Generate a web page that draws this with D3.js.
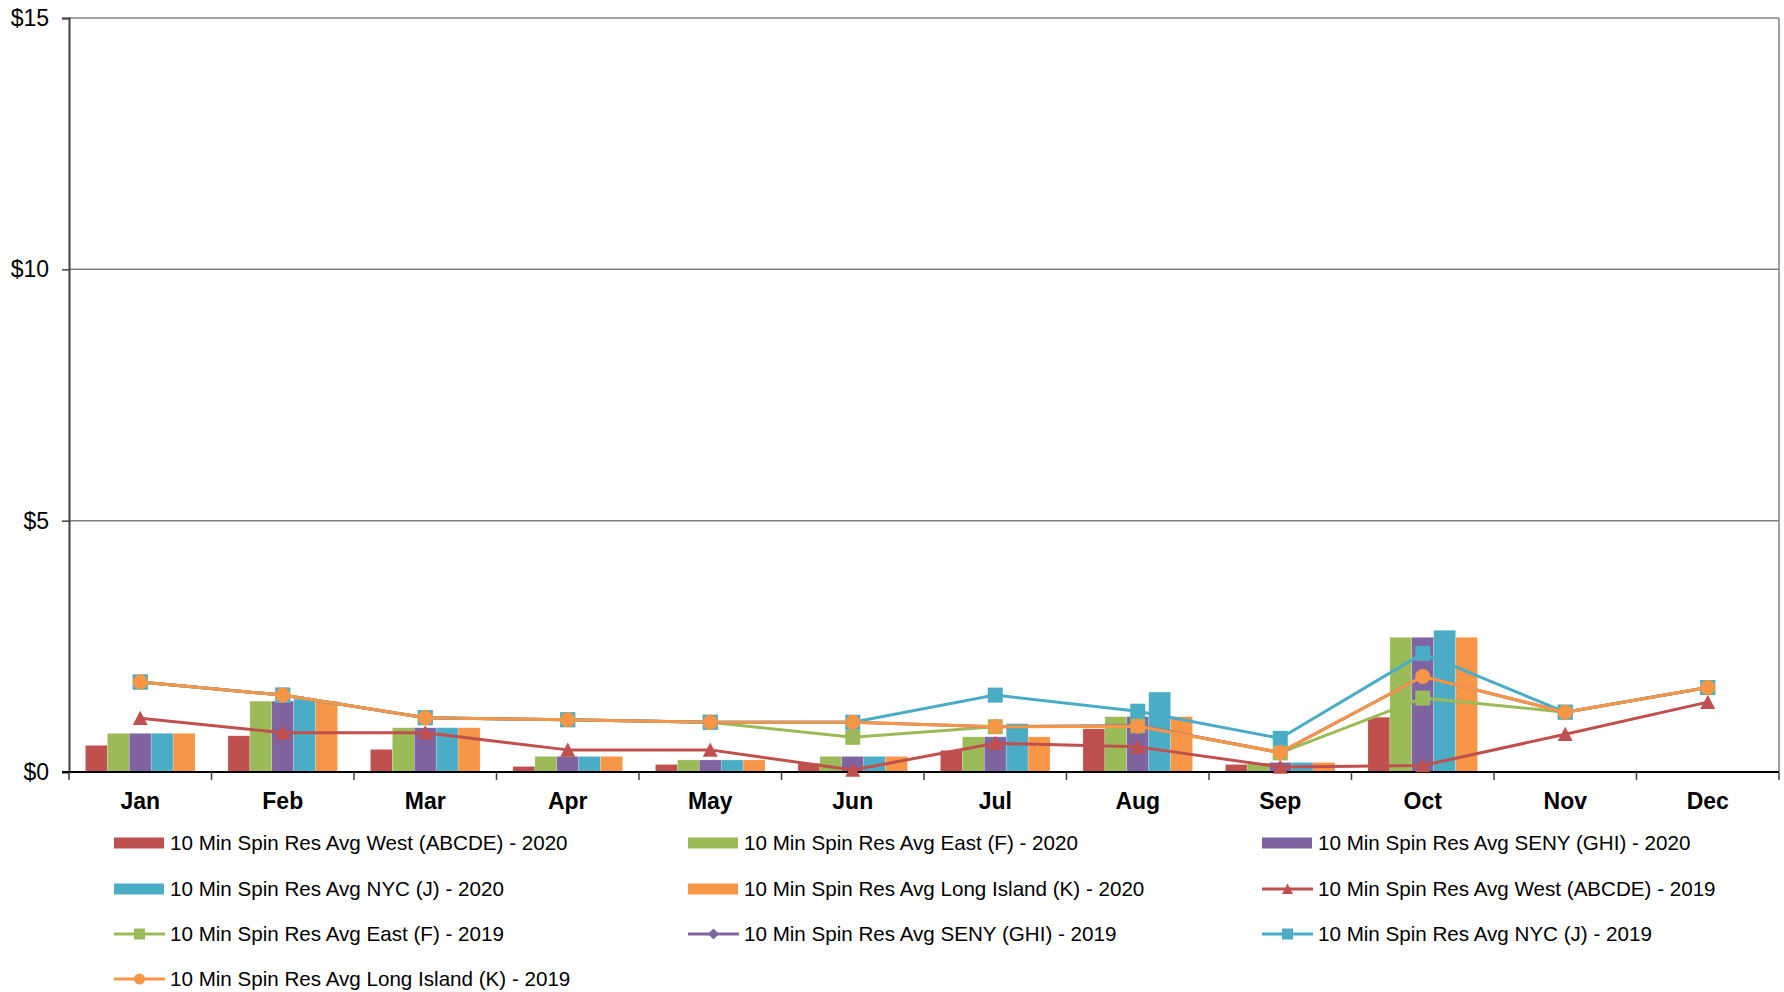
<!DOCTYPE html>
<html><head><meta charset="utf-8">
<script src="https://cdn.jsdelivr.net/npm/d3@7"></script>
<style>
html,body{margin:0;padding:0;background:#fff;}
svg{display:block;font-family:"Liberation Sans",Arial,sans-serif;}
</style></head>
<body>
<svg id="chart" width="1784" height="992"></svg>
<script>
const months = ["Jan","Feb","Mar","Apr","May","Jun","Jul","Aug","Sep","Oct","Nov","Dec"];
const yTicks = [0,5,10,15];

const west2020 = [0.53,0.72,0.45,0.11,0.15,0.17,0.43,0.86,0.15,1.09,null,null];
const east2020 = [0.77,1.41,0.88,0.31,0.24,0.31,0.70,1.10,0.18,2.68,null,null];
const seny2020 = [0.77,1.41,0.88,0.31,0.24,0.31,0.70,1.10,0.19,2.68,null,null];
const nyc2020  = [0.77,1.45,0.88,0.31,0.24,0.31,0.96,1.59,0.19,2.82,null,null];
const li2020   = [0.77,1.41,0.88,0.31,0.24,0.31,0.70,1.10,0.19,2.68,null,null];

const west2019 = [1.07,0.78,0.78,0.44,0.44,0.04,0.57,0.50,0.10,0.13,0.75,1.39];
const east2019 = [1.79,1.53,1.08,1.04,0.99,0.69,0.90,0.92,0.38,1.47,1.19,1.68];
const seny2019 = [1.79,1.53,1.08,1.04,0.99,0.99,0.90,0.92,0.39,1.90,1.19,1.68];
const nyc2019  = [1.79,1.53,1.08,1.04,0.99,0.99,1.53,1.21,0.67,2.36,1.19,1.68];
const li2019   = [1.79,1.53,1.08,1.04,0.99,0.99,0.90,0.91,0.39,1.90,1.19,1.68];

const barNames = ["10 Min Spin Res Avg West (ABCDE) - 2020","10 Min Spin Res Avg East (F) - 2020","10 Min Spin Res Avg SENY (GHI) - 2020","10 Min Spin Res Avg NYC (J) - 2020","10 Min Spin Res Avg Long Island (K) - 2020"];
const lineNames = ["10 Min Spin Res Avg West (ABCDE) - 2019","10 Min Spin Res Avg East (F) - 2019","10 Min Spin Res Avg SENY (GHI) - 2019","10 Min Spin Res Avg NYC (J) - 2019","10 Min Spin Res Avg Long Island (K) - 2019"];
const colors = ["#C0504D","#9BBB59","#8064A2","#4BACC6","#F79646"];
const markers = ["triangle","square","diamond","square","circle"];

const barSeries = [west2020,east2020,seny2020,nyc2020,li2020].map((v,i)=>({name:barNames[i],values:v,color:colors[i]}));
const lineSeries = [west2019,east2019,seny2019,nyc2019,li2019].map((v,i)=>({name:lineNames[i],values:v,color:colors[i],marker:markers[i]}));

const svg = d3.select("#chart");
const L=69, R=1779, T=18, B=772;

const x0 = d3.scaleBand().domain(months).range([L,R]).padding(0);
const bw = x0.bandwidth();
const w = bw/6.5;
const x1 = d3.scaleBand().domain(d3.range(5)).range([0.75*w, bw-0.75*w]).padding(0);
const y = d3.scaleLinear().domain([0,15]).range([B,T]);

// gridlines
svg.append("g").selectAll("line").data(yTicks.filter(d=>d>0)).join("line")
  .attr("x1",L).attr("x2",R).attr("y1",d=>y(d)).attr("y2",d=>y(d))
  .attr("stroke","#808080").attr("stroke-width",1.5);
// right border
svg.append("line").attr("x1",R).attr("x2",R).attr("y1",T).attr("y2",B)
  .attr("stroke","#808080").attr("stroke-width",1.5);

// bars
const gb = svg.append("g");
barSeries.forEach((s,si)=>{
  gb.append("g").selectAll("rect")
    .data(months.map((m,i)=>({m,v:s.values[i]})).filter(d=>d.v!=null))
    .join("rect")
    .attr("x",d=>x0(d.m)+x1(si))
    .attr("width",x1.bandwidth())
    .attr("y",d=>y(d.v))
    .attr("height",d=>B-y(d.v))
    .attr("fill",s.color)
    .attr("stroke","rgba(255,255,255,0.35)").attr("stroke-width",0.6);
});

// y axis
const yAxis = d3.axisLeft(y).tickValues(yTicks).tickFormat(d=>"$"+d).tickSizeOuter(0).tickSize(7).tickPadding(13);
const gy = svg.append("g").attr("transform",`translate(${L},0)`).call(yAxis);
gy.attr("font-size",23).attr("font-family","Liberation Sans, Arial, sans-serif");
gy.select(".domain").attr("stroke","#404040").attr("stroke-width",2);
gy.selectAll(".tick line").attr("stroke","#404040").attr("stroke-width",1.5);
gy.selectAll(".tick text").attr("font-size",23).attr("fill","#000");

// x axis
const gx = svg.append("g").attr("transform",`translate(0,${B})`);
gx.append("line").attr("x1",L-7).attr("x2",R).attr("y1",0).attr("y2",0).attr("stroke","#000").attr("stroke-width",2);
gx.selectAll("line.tk").data(d3.range(months.length+1)).join("line").attr("class","tk")
  .attr("x1",i=>i<months.length?x0(months[i]):R).attr("x2",i=>i<months.length?x0(months[i]):R)
  .attr("y1",0).attr("y2",8).attr("stroke","#404040").attr("stroke-width",1.5);
gx.selectAll("text").data(months).join("text")
  .attr("x",d=>x0(d)+bw/2).attr("y",37)
  .attr("text-anchor","middle").attr("font-size",23).attr("font-weight","bold").attr("fill","#000")
  .text(d=>d);

// marker drawing
function drawMarker(g, type, size, color){
  const h=size/2;
  if(type==="square") g.append("rect").attr("x",-h).attr("y",-h).attr("width",size).attr("height",size).attr("fill",color);
  else if(type==="circle") g.append("circle").attr("r",h).attr("fill",color);
  else if(type==="triangle") g.append("path").attr("d",`M0,${-h}L${h},${h*0.9}L${-h},${h*0.9}Z`).attr("fill",color);
  else if(type==="diamond") g.append("path").attr("d",`M0,${-h}L${h},0L0,${h}L${-h},0Z`).attr("fill",color);
}

// lines
const line = d3.line().defined(d=>d.v!=null).x(d=>x0(d.m)+bw/2).y(d=>y(d.v));
lineSeries.forEach(s=>{
  const data = months.map((m,i)=>({m,v:s.values[i]}));
  const g = svg.append("g");
  g.append("path").datum(data).attr("d",line).attr("fill","none").attr("stroke",s.color).attr("stroke-width",3).attr("stroke-linejoin","round");
  data.filter(d=>d.v!=null).forEach(d=>{
    const mg = g.append("g").attr("transform",`translate(${x0(d.m)+bw/2},${y(d.v)})`);
    drawMarker(mg, s.marker, 15, s.color);
  });
});

// legend
const legendItems = [...barSeries.map(s=>({...s,type:"bar"})), ...lineSeries.map(s=>({...s,type:"line"}))];
const colX = [114,688,1262];
const rowY = [843,889,934,979];
const lg = svg.append("g");
legendItems.forEach((it,i)=>{
  const cx = colX[i%3], cy = rowY[Math.floor(i/3)];
  const g = lg.append("g");
  if(it.type==="bar"){
    g.append("rect").attr("x",cx).attr("y",cy-5.5).attr("width",50).attr("height",11).attr("fill",it.color);
  } else {
    g.append("line").attr("x1",cx).attr("x2",cx+51).attr("y1",cy).attr("y2",cy).attr("stroke",it.color).attr("stroke-width",3);
    const mg = g.append("g").attr("transform",`translate(${cx+25.5},${cy})`);
    drawMarker(mg, it.marker, 11, it.color);
  }
  g.append("text").attr("x",cx+56).attr("y",cy).attr("dy","0.35em")
    .attr("font-size",20.6).attr("fill","#000").text(it.name);
});
</script>
</body></html>
